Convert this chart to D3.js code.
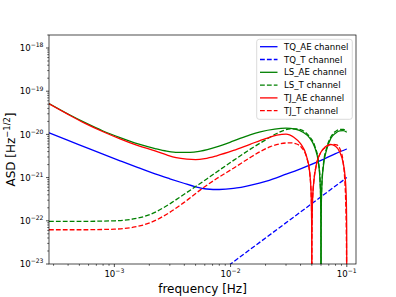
<!DOCTYPE html>
<html>
<head>
<meta charset="utf-8">
<script src="https://cdn.jsdelivr.net/npm/d3@7"></script>
<style>
body { margin: 0; background: #fff; }
svg { font-family: "DejaVu Sans", sans-serif; }
</style>
</head>
<body>
<svg id="chart" width="396" height="297"></svg>
<script>
// [frequency (Hz), ASD (Hz^-1/2)]
const tqAE = [
    [2.74e-4, 1.09e-20], [4e-4, 7.3e-21], [6.2e-4, 4.55e-21], [1.12e-3, 2.45e-21],
    [1.6e-3, 1.7e-21], [2.24e-3, 1.22e-21], [3e-3, 9.4e-22], [3.9e-3, 7.5e-22],
    [5e-3, 6.1e-22], [6.24e-3, 5.45e-22], [8e-3, 5.3e-22], [0.0106, 5.6e-22],
    [0.015, 6.7e-22], [0.0204, 8.3e-22], [0.03, 1.2e-21], [0.04, 1.6e-21],
    [0.06, 2.5e-21], [0.08, 3.6e-21], [0.1, 4.6e-21]
];
const tqT = [
    [5e-3, 2.5e-24], [0.01, 1e-23], [0.02, 4e-23], [0.05, 2.5e-22], [0.1, 1e-21]
];
const lsAE = [
    [2.74e-4, 5.2e-20], [4e-4, 2.97e-20], [5.6e-4, 1.87e-20], [8e-4, 1.2e-20],
    [1.12e-3, 8.4e-21], [1.6e-3, 6.0e-21], [2.24e-3, 4.7e-21], [2.82e-3, 4.1e-21],
    [3.5e-3, 3.82e-21], [4.5e-3, 3.82e-21], [5.5e-3, 4.1e-21], [7.6e-3, 5.15e-21],
    [0.0106, 7.05e-21], [0.0147, 9.8e-21], [0.018, 1.15e-20], [0.024, 1.33e-20],
    [0.03, 1.39e-20], [0.036, 1.32e-20], [0.042, 1.12e-20], [0.048, 8.2e-21],
    [0.053, 5.0e-21], [0.057, 2.2e-21], [0.059, 7.3e-22], [0.0595, 3.6e-22],
    [0.0599, 7.3e-23], [0.06, 1e-25], [0.0601, 6.4e-23], [0.0605, 3.2e-22],
    [0.061, 6.4e-22], [0.063, 1.9e-21], [0.067, 4.4e-21], [0.073, 8.2e-21],
    [0.08, 1.07e-20], [0.087, 1.21e-20], [0.093, 1.22e-20], [0.1, 1.12e-20]
];
const lsT = [
    [2.74e-4, 9.7e-23], [5e-4, 9.7e-23], [1e-3, 1.0e-22], [1.5e-3, 1.12e-22],
    [2.03e-3, 1.4e-22], [2.8e-3, 2.2e-22], [3.93e-3, 4.0e-22], [5e-3, 6.2e-22],
    [6.24e-3, 9.3e-22], [7.6e-3, 1.35e-21], [0.0106, 2.5e-21], [0.0147, 4.5e-21],
    [0.018, 6.3e-21], [0.025, 1.05e-20], [0.029, 1.25e-20], [0.0335, 1.35e-20],
    [0.038, 1.33e-20], [0.043, 1.18e-20], [0.048, 8.8e-21], [0.053, 5.4e-21],
    [0.057, 2.4e-21], [0.059, 8e-22], [0.0595, 4e-22], [0.0599, 8e-23],
    [0.06, 1e-25], [0.0601, 7e-23], [0.0605, 3.5e-22], [0.061, 7e-22],
    [0.063, 2.1e-21], [0.067, 4.8e-21], [0.073, 8.8e-21], [0.08, 1.17e-20],
    [0.087, 1.3e-20], [0.094, 1.3e-20], [0.1, 1.2e-20]
];
const tjAE = [
    [2.74e-4, 5.1e-20], [4e-4, 2.9e-20], [5.6e-4, 1.8e-20], [8e-4, 1.15e-20],
    [1.12e-3, 7.9e-21], [1.6e-3, 5.5e-21], [2.24e-3, 4.15e-21], [2.82e-3, 3.35e-21],
    [3.4e-3, 2.9e-21], [4.2e-3, 2.68e-21], [5e-3, 2.62e-21], [6e-3, 2.75e-21],
    [7.6e-3, 3.2e-21], [0.0106, 4.25e-21], [0.0147, 5.9e-21], [0.02, 8.0e-21],
    [0.025, 9.6e-21], [0.03, 1.02e-20], [0.035, 8.6e-21], [0.04, 6.1e-21],
    [0.045, 3.15e-21], [0.048, 1.3e-21], [0.049, 6.4e-22], [0.0495, 3.2e-22],
    [0.0499, 6.4e-23], [0.05, 1e-25], [0.0501, 4e-23], [0.0505, 2e-22],
    [0.051, 4e-22], [0.052, 8e-22], [0.055, 2.1e-21], [0.06, 3.9e-21],
    [0.065, 5.1e-21], [0.072, 5.9e-21], [0.08, 5.3e-21], [0.087, 3.9e-21],
    [0.093, 2.2e-21], [0.097, 9.5e-22], [0.099, 3.2e-22], [0.0998, 6.4e-23],
    [0.1, 1e-25]
];
const tjT = [
    [2.74e-4, 6.2e-23], [5e-4, 6.2e-23], [1e-3, 6.4e-23], [1.5e-3, 7.2e-23],
    [2.03e-3, 9e-23], [2.8e-3, 1.4e-22], [3.93e-3, 2.6e-22], [5.5e-3, 5.2e-22],
    [7.6e-3, 9.5e-22], [0.0106, 1.65e-21], [0.0147, 2.9e-21], [0.018, 4.0e-21],
    [0.022, 5.2e-21], [0.027, 6.1e-21], [0.0325, 6.4e-21], [0.037, 6.0e-21],
    [0.041, 4.9e-21], [0.045, 3.0e-21], [0.048, 1.25e-21], [0.049, 6.3e-22],
    [0.0495, 3.2e-22], [0.0499, 6.3e-23], [0.05, 1e-25], [0.0501, 4e-23],
    [0.0505, 2e-22], [0.051, 4e-22], [0.052, 8e-22], [0.055, 2.1e-21],
    [0.06, 3.9e-21], [0.067, 5.2e-21], [0.075, 5.9e-21], [0.082, 5.7e-21],
    [0.088, 4.4e-21], [0.093, 2.3e-21], [0.096, 9e-22], [0.098, 2.4e-22],
    [0.099, 6e-23], [0.0995, 1.5e-23], [0.1, 1e-25]
];

const seriesLabels = ["TQ_AE channel", "TQ_T channel", "LS_AE channel", "LS_T channel", "TJ_AE channel", "TJ_T channel"];
const xTickExponents = [-3, -2, -1];
const yTickExponents = [-23, -22, -21, -20, -19, -18];

let series = [
    {label: seriesLabels[0], data: tqAE, color: "#0000ff", dashed: false},
    {label: seriesLabels[1], data: tqT, color: "#0000ff", dashed: true},
    {label: seriesLabels[2], data: lsAE, color: "#008000", dashed: false},
    {label: seriesLabels[3], data: lsT, color: "#008000", dashed: true},
    {label: seriesLabels[4], data: tjAE, color: "#ff0000", dashed: false},
    {label: seriesLabels[5], data: tjT, color: "#ff0000", dashed: true}
];

let plot = {left: 49, right: 356, top: 35, bottom: 264};
let lineWidth = 1.3;
let dash = "4.8,2.1";

let svg = d3.select("#chart");

let scale = {
    x: d3.scaleLog().domain([2.74e-4, 0.12]).range([plot.left, plot.right]),
    y: d3.scaleLog().domain([1e-23, 2e-18]).range([plot.bottom, plot.top])
};

svg.append("defs").append("clipPath")
    .attr("id", "plot-clip")
    .append("rect")
    .attr("x", plot.left)
    .attr("y", plot.top)
    .attr("width", plot.right - plot.left)
    .attr("height", plot.bottom - plot.top);

// minor ticks 2..9 x 10^k inside a domain
function minorTicks(domain) {
    let ticks = [];
    let lo = Math.floor(Math.log10(domain[0]));
    let hi = Math.ceil(Math.log10(domain[1]));
    for (let k = lo; k <= hi; k++) {
        for (let m = 2; m <= 9; m++) {
            let v = m * Math.pow(10, k);
            if (v >= domain[0] && v <= domain[1]) ticks.push(v);
        }
    }
    return ticks;
}

function powerLabel(text, exp) {
    text.append("tspan").text("10");
    text.append("tspan")
        .attr("dy", -3.9)
        .attr("font-size", 6.1)
        .text("\u2212" + Math.abs(exp));
}

// x axis ticks
let xAxis = svg.append("g").attr("class", "axis axis--x");
xAxis.selectAll(".minor")
    .data(minorTicks(scale.x.domain()))
    .enter()
    .append("line")
    .attr("x1", d => scale.x(d)).attr("x2", d => scale.x(d))
    .attr("y1", plot.bottom).attr("y2", plot.bottom + 1.8)
    .attr("stroke", "#000").attr("stroke-width", 0.6);
xAxis.selectAll(".major")
    .data(xTickExponents)
    .enter()
    .append("line")
    .attr("x1", d => scale.x(Math.pow(10, d))).attr("x2", d => scale.x(Math.pow(10, d)))
    .attr("y1", plot.bottom).attr("y2", plot.bottom + 3)
    .attr("stroke", "#000").attr("stroke-width", 0.7);
xAxis.selectAll("text")
    .data(xTickExponents)
    .enter()
    .append("text")
    .attr("x", d => scale.x(Math.pow(10, d)))
    .attr("y", 277)
    .attr("text-anchor", "middle")
    .attr("font-size", 8.6)
    .each(function (d) { powerLabel(d3.select(this), d); });

// y axis ticks
let yAxis = svg.append("g").attr("class", "axis axis--y");
yAxis.selectAll(".minor")
    .data(minorTicks(scale.y.domain()))
    .enter()
    .append("line")
    .attr("y1", d => scale.y(d)).attr("y2", d => scale.y(d))
    .attr("x1", plot.left).attr("x2", plot.left - 1.8)
    .attr("stroke", "#000").attr("stroke-width", 0.6);
yAxis.selectAll(".major")
    .data(yTickExponents)
    .enter()
    .append("line")
    .attr("y1", d => scale.y(Math.pow(10, d))).attr("y2", d => scale.y(Math.pow(10, d)))
    .attr("x1", plot.left).attr("x2", plot.left - 3)
    .attr("stroke", "#000").attr("stroke-width", 0.7);
yAxis.selectAll("text")
    .data(yTickExponents)
    .enter()
    .append("text")
    .attr("x", 43.5)
    .attr("y", d => scale.y(Math.pow(10, d)) + 3.2)
    .attr("text-anchor", "end")
    .attr("font-size", 8.6)
    .each(function (d) { powerLabel(d3.select(this), d); });

// curves
let line = d3.line()
    .curve(d3.curveMonotoneX)
    .x(d => scale.x(d[0]))
    .y(d => scale.y(d[1]));

svg.append("g")
    .attr("clip-path", "url(#plot-clip)")
    .selectAll("path")
    .data(series)
    .enter()
    .append("path")
    .attr("d", d => line(d.data))
    .attr("fill", "none")
    .attr("stroke", d => d.color)
    .attr("stroke-width", lineWidth)
    .attr("stroke-dasharray", d => d.dashed ? dash : null);

// frame
svg.append("rect")
    .attr("x", plot.left).attr("y", plot.top)
    .attr("width", plot.right - plot.left)
    .attr("height", plot.bottom - plot.top)
    .attr("fill", "none")
    .attr("stroke", "#000")
    .attr("stroke-width", 0.7);

// axis labels
svg.append("text")
    .attr("x", (plot.left + plot.right) / 2)
    .attr("y", 293)
    .attr("text-anchor", "middle")
    .attr("font-size", 12)
    .text("frequency [Hz]");

let yLabel = svg.append("text")
    .attr("transform", `translate(15, ${(plot.top + plot.bottom) / 2}) rotate(-90)`)
    .attr("text-anchor", "middle")
    .attr("font-size", 12);
yLabel.append("tspan").text("ASD [Hz");
yLabel.append("tspan").attr("dy", -5).attr("font-size", 8.4).text("\u22121/2");
yLabel.append("tspan").attr("dy", 5).text("]");

// legend
let legend = svg.append("g").attr("class", "legend");
legend.append("rect")
    .attr("x", 256.7).attr("y", 39.3)
    .attr("width", 95.6).attr("height", 80)
    .attr("rx", 2.5)
    .attr("fill", "#fff").attr("fill-opacity", 0.8)
    .attr("stroke", "#cccccc").attr("stroke-width", 0.7);

let rows = legend.selectAll(".row")
    .data(series)
    .enter()
    .append("g")
    .attr("class", "row")
    .attr("transform", (d, i) => `translate(0, ${46.7 + i * 12.8})`);
rows.append("line")
    .attr("x1", 260).attr("x2", 277.5)
    .attr("y1", 0).attr("y2", 0)
    .attr("stroke", d => d.color)
    .attr("stroke-width", lineWidth)
    .attr("stroke-dasharray", d => d.dashed ? dash : null);
rows.append("text")
    .attr("x", 284)
    .attr("y", 3.1)
    .attr("font-size", 8.6)
    .text(d => d.label);
</script>
</body>
</html>
